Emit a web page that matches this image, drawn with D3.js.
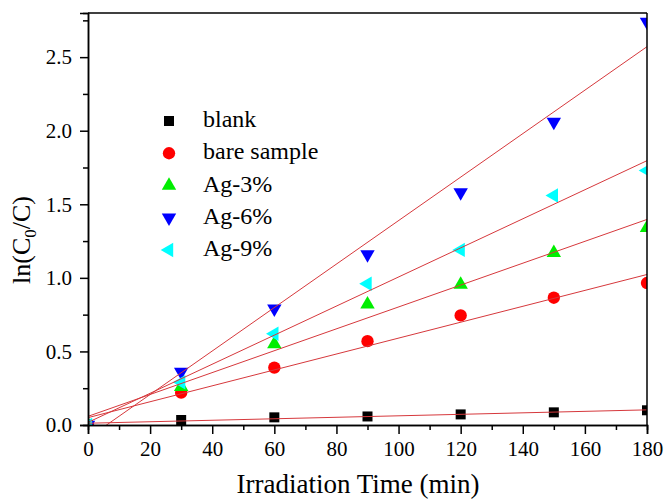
<!DOCTYPE html>
<html>
<head>
<meta charset="utf-8">
<script src="https://cdn.jsdelivr.net/npm/d3@7"></script>
<style>
    body { margin: 0; background: #fff; }
    svg text { font-family: "Liberation Serif", "Times New Roman", serif; fill: #000; }
</style>
</head>
<body>
<div id="chart"></div>
<script>
const times = [0, 30, 60, 90, 120, 150, 180]
const blank = [0, 0.034, 0.052, 0.058, 0.072, 0.086, 0.10]
const bareSample = [0, 0.22, 0.39, 0.57, 0.745, 0.865, 0.965]
const ag3 = [0, 0.26, 0.55, 0.82, 0.955, 1.17, 1.34]
const ag6 = [0, 0.36, 0.79, 1.16, 1.58, 2.06, 2.74]
const ag9 = [0, 0.29, 0.62, 0.96, 1.19, 1.56, 1.73]
const seriesNames = ["blank", "bare sample", "Ag-3%", "Ag-6%", "Ag-9%"]
const xTicks = [0, 20, 40, 60, 80, 100, 120, 140, 160, 180]
const yTicks = [0, 0.5, 1.0, 1.5, 2.0, 2.5]

const serif = "'Liberation Serif', 'Times New Roman', serif"

const width = 665,
    height = 500,
    margin = {top: 13, right: 18, bottom: 75, left: 88}

const series = [
    {name: seriesNames[0], values: blank, color: "#000000", shape: "square"},
    {name: seriesNames[1], values: bareSample, color: "#ff0000", shape: "circle"},
    {name: seriesNames[2], values: ag3, color: "#00ee00", shape: "up"},
    {name: seriesNames[3], values: ag6, color: "#0000ff", shape: "down"},
    {name: seriesNames[4], values: ag9, color: "#00ffff", shape: "left"}
]

let svg = d3.select("#chart").append("svg")
    .attr("width", width)
    .attr("height", height)

let x = d3.scaleLinear().domain([0, 180]).range([margin.left, width - margin.right]),
    y = d3.scaleLinear().domain([0, 2.8]).range([height - margin.bottom, margin.top])

svg.append("defs").append("clipPath")
    .attr("id", "plot-clip")
    .append("rect")
    .attr("x", margin.left)
    .attr("y", margin.top)
    .attr("width", width - margin.left - margin.right)
    .attr("height", height - margin.top - margin.bottom)

function markerPath(shape) {
    if (shape === "square") return d3.symbol(d3.symbolSquare, 100)()
    if (shape === "circle") return d3.symbol(d3.symbolCircle, 120)()
    return d3.symbol(d3.symbolTriangle, 90)()
}

function markerRotation(shape) {
    if (shape === "down") return 180
    if (shape === "left") return -90
    return 0
}

// least squares fit of a series
function fit(values) {
    let mx = d3.mean(times),
        my = d3.mean(values),
        sxy = d3.sum(times, (t, i) => (t - mx) * (values[i] - my)),
        sxx = d3.sum(times, t => (t - mx) * (t - mx)),
        slope = sxy / sxx

    return {slope: slope, intercept: my - slope * mx}
}

let plot = svg.append("g").attr("clip-path", "url(#plot-clip)")

series.forEach(function(s) {
    plot.append("g")
        .selectAll("path")
        .data(s.values)
        .join("path")
        .attr("d", markerPath(s.shape))
        .attr("fill", s.color)
        .attr("transform", (d, i) => `translate(${x(times[i])},${y(d)}) rotate(${markerRotation(s.shape)})`)
})

series.forEach(function(s) {
    let f = fit(s.values)

    plot.append("line")
        .attr("x1", x(0))
        .attr("y1", y(f.intercept))
        .attr("x2", x(180))
        .attr("y2", y(f.intercept + f.slope * 180))
        .attr("stroke", "#d6383c")
        .attr("stroke-width", 1)
})

// axes
let xAxis = d3.axisBottom(x).tickValues(xTicks).tickSize(9).tickPadding(7).tickFormat(d3.format("d")),
    xMinor = d3.axisBottom(x).tickValues(d3.range(10, 180, 20)).tickSize(5).tickFormat(""),
    yAxis = d3.axisLeft(y).tickValues(yTicks).tickSize(8).tickPadding(8).tickFormat(d3.format(".1f")),
    yMinor = d3.axisLeft(y).tickValues([0.25, 0.75, 1.25, 1.75, 2.25, 2.75]).tickSize(5).tickFormat("")

function styleAxis(g) {
    g.attr("font-family", serif).attr("font-size", 21)
    g.selectAll(".domain").attr("stroke", "#000").attr("stroke-width", 1.5)
    g.selectAll(".tick line").attr("stroke", "#000").attr("stroke-width", 1.5)
    g.selectAll(".tick text").style("font-family", serif).style("font-size", "21px")
}

svg.append("g").attr("transform", `translate(0,${y(0)})`).call(xAxis).call(styleAxis)
svg.append("g").attr("transform", `translate(0,${y(0)})`).call(xMinor).call(styleAxis)
svg.append("g").attr("transform", `translate(${x(0)},0)`).call(yAxis).call(styleAxis)
svg.append("g").attr("transform", `translate(${x(0)},0)`).call(yMinor).call(styleAxis)

svg.append("line")
    .attr("x1", x(0)).attr("x2", x(180))
    .attr("y1", y(2.8)).attr("y2", y(2.8))
    .attr("stroke", "#000").attr("stroke-width", 1.5)

svg.append("line")
    .attr("x1", x(180)).attr("x2", x(180))
    .attr("y1", y(2.8)).attr("y2", y(0))
    .attr("stroke", "#000").attr("stroke-width", 1.5)

// titles
svg.append("text")
    .attr("x", 358)
    .attr("y", 493)
    .attr("text-anchor", "middle")
    .style("font-size", "27px")
    .text("Irradiation Time (min)")

let yTitle = svg.append("text")
    .attr("transform", "translate(30,240) rotate(-90)")
    .attr("text-anchor", "middle")
    .style("font-size", "26px")

yTitle.append("tspan").text("ln(C")
yTitle.append("tspan").attr("dy", 6).style("font-size", "17px").text("0")
yTitle.append("tspan").attr("dy", -6).text("/C)")

// legend
let legend = svg.append("g")

series.forEach(function(s, i) {
    let ly = 127 + i * 32.25

    legend.append("path")
        .attr("d", markerPath(s.shape))
        .attr("fill", s.color)
        .attr("transform", `translate(169,${ly - 6}) rotate(${markerRotation(s.shape)})`)

    legend.append("text")
        .attr("x", 203)
        .attr("y", ly)
        .style("font-size", "24px")
        .text(s.name)
})
</script>
</body>
</html>
